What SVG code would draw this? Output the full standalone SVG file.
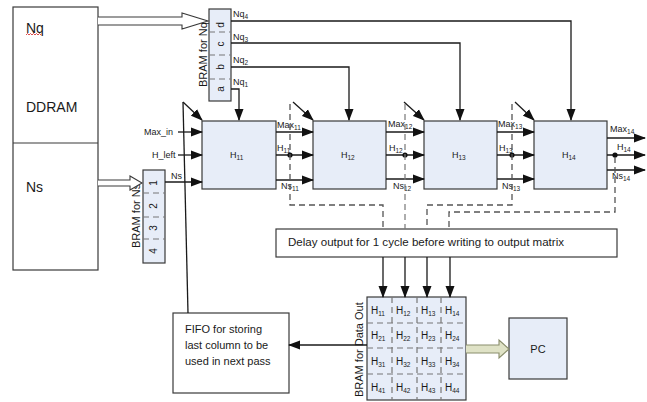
<svg xmlns="http://www.w3.org/2000/svg" width="647" height="402" viewBox="0 0 647 402">
<style>
text{font-family:"Liberation Sans",Arial,sans-serif;fill:#1a1a1a}
.box{fill:#e7edf8;stroke:#3a3a3a;stroke-width:1.2}
.wbox{fill:#fff;stroke:#3a3a3a;stroke-width:1.2}
.ln{fill:none;stroke:#1a1a1a;stroke-width:1.3}
.dl{fill:none;stroke:#555;stroke-width:1.3;stroke-dasharray:6,4}
.dg{fill:none;stroke:#777;stroke-width:1.2;stroke-dasharray:6,4}
.big{font-size:14px}
.lb{font-size:9px}
.sb{font-size:6.5px}
.hl{font-size:10px}
.rot{font-size:11px}
</style>
<defs>
<marker id="ah" markerWidth="12" markerHeight="10" refX="11" refY="5" orient="auto" markerUnits="userSpaceOnUse">
<path d="M0,0.5 L12,5 L0,9.5 z" fill="#111"/>
</marker>
</defs>

<g id="ddram">
<rect class="wbox" x="13" y="7" width="85" height="263"/>
<line x1="13" y1="143" x2="98" y2="143" stroke="#3a3a3a" stroke-width="1.2"/>
<text class="big" x="26" y="33">Nq</text>
<path d="M26,35 l1.5,-1.5 l1.5,1.5 l1.5,-1.5 l1.5,1.5 l1.5,-1.5 l1.5,1.5 l1.5,-1.5 l1.5,1.5 l1.5,-1.5 l1.5,1.5" fill="none" stroke="#d02020" stroke-width="0.8"/>
<text class="big" x="26" y="112">DDRAM</text>
<text class="big" x="26" y="192">Ns</text>
</g>

<g id="bram-nq">
<rect class="box" x="209" y="9" width="22" height="92"/>
<line class="dg" x1="209" y1="32" x2="231" y2="32" stroke-dasharray="6,5"/>
<line class="dg" x1="209" y1="55" x2="231" y2="55" stroke-dasharray="6,5"/>
<line class="dg" x1="209" y1="79" x2="231" y2="79" stroke-dasharray="6,5"/>
<text class="hl" transform="translate(224,25) rotate(-90)" text-anchor="middle">d</text>
<text class="hl" transform="translate(224,44) rotate(-90)" text-anchor="middle">c</text>
<text class="hl" transform="translate(224,67) rotate(-90)" text-anchor="middle">b</text>
<text class="hl" transform="translate(224,89) rotate(-90)" text-anchor="middle">a</text>
<text class="rot" transform="translate(207,87) rotate(-90)">BRAM for Nq</text>
</g>

<g id="bram-ns">
<rect class="box" x="143" y="170" width="22" height="93"/>
<line class="dg" x1="143" y1="193" x2="165" y2="193" stroke-dasharray="6,5"/>
<line class="dg" x1="143" y1="217" x2="165" y2="217" stroke-dasharray="6,5"/>
<line class="dg" x1="143" y1="239" x2="165" y2="239" stroke-dasharray="6,5"/>
<text class="hl" transform="translate(157,183) rotate(-90)" text-anchor="middle">1</text>
<text class="hl" transform="translate(157,206) rotate(-90)" text-anchor="middle">2</text>
<text class="hl" transform="translate(157,228) rotate(-90)" text-anchor="middle">3</text>
<text class="hl" transform="translate(157,251) rotate(-90)" text-anchor="middle">4</text>
<text class="rot" transform="translate(140,248) rotate(-90)">BRAM for Ns</text>
</g>

<g id="h11">
<rect class="box" x="202" y="121" width="74" height="68"/>
<text class="lb" x="230" y="158">H<tspan class="sb" dy="2">11</tspan></text>
</g>
<g id="h12">
<rect class="box" x="313" y="121" width="73" height="68"/>
<text class="lb" x="341" y="158">H<tspan class="sb" dy="2">12</tspan></text>
</g>
<g id="h13">
<rect class="box" x="424" y="121" width="73" height="68"/>
<text class="lb" x="452" y="158">H<tspan class="sb" dy="2">13</tspan></text>
</g>
<g id="h14">
<rect class="box" x="534" y="121" width="73" height="68"/>
<text class="lb" x="562" y="158">H<tspan class="sb" dy="2">14</tspan></text>
</g>

<g id="delay">
<rect class="wbox" x="276" y="229" width="341" height="28"/>
<text x="288" y="246" font-size="11" textLength="276" lengthAdjust="spacingAndGlyphs">Delay output for 1 cycle before writing to output matrix</text>
</g>

<g id="fifo">
<rect class="wbox" x="173" y="313" width="116" height="80"/>
<text x="185" y="333" font-size="11">FIFO for storing</text>
<text x="185" y="349" font-size="11">last column to be</text>
<text x="185" y="365" font-size="11">used in next pass</text>
</g>

<g id="bram-out">
<rect class="box" x="367" y="297" width="99" height="103"/>
<line class="dg" x1="367" y1="323" x2="466" y2="323"/>
<line class="dg" x1="367" y1="348" x2="466" y2="348"/>
<line class="dg" x1="367" y1="374" x2="466" y2="374"/>
<line class="dg" x1="392" y1="297" x2="392" y2="400" stroke-dasharray="5,8"/>
<line class="dg" x1="417" y1="297" x2="417" y2="400" stroke-dasharray="5,8"/>
<line class="dg" x1="441" y1="297" x2="441" y2="400" stroke-dasharray="5,8"/>
<text class="hl" x="371" y="314">H<tspan class="sb" dy="2">11</tspan></text>
<text class="hl" x="396" y="314">H<tspan class="sb" dy="2">12</tspan></text>
<text class="hl" x="421" y="314">H<tspan class="sb" dy="2">13</tspan></text>
<text class="hl" x="445" y="314">H<tspan class="sb" dy="2">14</tspan></text>
<text class="hl" x="371" y="339">H<tspan class="sb" dy="2">21</tspan></text>
<text class="hl" x="396" y="339">H<tspan class="sb" dy="2">22</tspan></text>
<text class="hl" x="421" y="339">H<tspan class="sb" dy="2">23</tspan></text>
<text class="hl" x="445" y="339">H<tspan class="sb" dy="2">24</tspan></text>
<text class="hl" x="371" y="365">H<tspan class="sb" dy="2">31</tspan></text>
<text class="hl" x="396" y="365">H<tspan class="sb" dy="2">32</tspan></text>
<text class="hl" x="421" y="365">H<tspan class="sb" dy="2">33</tspan></text>
<text class="hl" x="445" y="365">H<tspan class="sb" dy="2">34</tspan></text>
<text class="hl" x="371" y="391">H<tspan class="sb" dy="2">41</tspan></text>
<text class="hl" x="396" y="391">H<tspan class="sb" dy="2">42</tspan></text>
<text class="hl" x="421" y="391">H<tspan class="sb" dy="2">43</tspan></text>
<text class="hl" x="445" y="391">H<tspan class="sb" dy="2">44</tspan></text>
<text class="rot" font-size="11.5" transform="translate(363,397) rotate(-90)">BRAM for Data Out</text>
</g>

<g id="pc">
<rect class="box" x="509" y="318" width="58" height="61"/>
<text x="538" y="353" font-size="11" text-anchor="middle">PC</text>
</g>

<g id="connectors">
<!-- hollow arrows -->
<path d="M98,17 L182,17 L182,13 L208,21 L182,29 L182,25 L98,25" fill="#fff" stroke="#3a3a3a" stroke-width="1.1"/>
<path d="M98,180 L130,180 L130,176 L142,183 L130,190 L130,186 L98,186" fill="#fff" stroke="#3a3a3a" stroke-width="1.1"/>
<path d="M466,345 L499,345 L499,340 L509,349 L499,358 L499,353 L466,353" fill="#dfe2c6" stroke="#8a8e6c" stroke-width="1.1"/>

<!-- Nq lines -->
<polyline class="ln" points="231,89 239,89 239,120" marker-end="url(#ah)"/>
<polyline class="ln" points="231,67 349,67 349,120" marker-end="url(#ah)"/>
<polyline class="ln" points="231,43 460,43 460,120" marker-end="url(#ah)"/>
<polyline class="ln" points="231,21 571,21 571,120" marker-end="url(#ah)"/>
<text class="lb" x="233" y="17">Nq<tspan class="sb" dy="2">4</tspan></text>
<text class="lb" x="233" y="40">Nq<tspan class="sb" dy="2">3</tspan></text>
<text class="lb" x="233" y="63">Nq<tspan class="sb" dy="2">2</tspan></text>
<text class="lb" x="233" y="85">Nq<tspan class="sb" dy="2">1</tspan></text>

<!-- feedback line and diagonal arrows -->
<line class="ln" x1="183" y1="102" x2="188" y2="313"/>
<line class="ln" x1="183" y1="102" x2="202" y2="120" marker-end="url(#ah)"/>
<line class="ln" x1="293" y1="102" x2="313" y2="120" marker-end="url(#ah)"/>
<line class="ln" x1="404" y1="102" x2="424" y2="120" marker-end="url(#ah)"/>
<line class="ln" x1="515" y1="102" x2="534" y2="120" marker-end="url(#ah)"/>

<!-- inputs to H11 -->
<text class="lb" x="144" y="135">Max_in</text>
<text class="lb" x="152" y="158">H_left</text>
<text class="lb" x="171" y="179">Ns</text>
<line class="ln" x1="178" y1="132" x2="202" y2="132" marker-end="url(#ah)"/>
<line class="ln" x1="178" y1="155" x2="202" y2="155" marker-end="url(#ah)"/>
<line class="ln" x1="165" y1="182" x2="202" y2="182" marker-end="url(#ah)"/>

<!-- between blocks -->
<line class="ln" x1="276" y1="132" x2="313" y2="132" marker-end="url(#ah)"/>
<line class="ln" x1="276" y1="155" x2="313" y2="155" marker-end="url(#ah)"/>
<line class="ln" x1="276" y1="180" x2="313" y2="180" marker-end="url(#ah)"/>
<line class="ln" x1="386" y1="132" x2="424" y2="132" marker-end="url(#ah)"/>
<line class="ln" x1="386" y1="155" x2="424" y2="155" marker-end="url(#ah)"/>
<line class="ln" x1="386" y1="179" x2="424" y2="179" marker-end="url(#ah)"/>
<line class="ln" x1="497" y1="132" x2="534" y2="132" marker-end="url(#ah)"/>
<line class="ln" x1="497" y1="155" x2="534" y2="155" marker-end="url(#ah)"/>
<line class="ln" x1="497" y1="179" x2="534" y2="179" marker-end="url(#ah)"/>
<line class="ln" x1="607" y1="138" x2="645" y2="138" marker-end="url(#ah)"/>
<line class="ln" x1="607" y1="155" x2="645" y2="155" marker-end="url(#ah)"/>
<line class="ln" x1="607" y1="170" x2="645" y2="170" marker-end="url(#ah)"/>

<text class="lb" x="277" y="128">Max<tspan class="sb" dy="2">11</tspan></text>
<text class="lb" x="277" y="151">H<tspan class="sb" dy="2">11</tspan></text>
<text class="lb" x="281" y="189">Ns<tspan class="sb" dy="2">11</tspan></text>
<text class="lb" x="388" y="127">Max<tspan class="sb" dy="2">12</tspan></text>
<text class="lb" x="389" y="151">H<tspan class="sb" dy="2">12</tspan></text>
<text class="lb" x="393" y="189">Ns<tspan class="sb" dy="2">12</tspan></text>
<text class="lb" x="498" y="127">Max<tspan class="sb" dy="2">13</tspan></text>
<text class="lb" x="499" y="151">H<tspan class="sb" dy="2">13</tspan></text>
<text class="lb" x="502" y="189">Ns<tspan class="sb" dy="2">13</tspan></text>
<text class="lb" x="610" y="132">Max<tspan class="sb" dy="2">14</tspan></text>
<text class="lb" x="617" y="150">H<tspan class="sb" dy="2">14</tspan></text>
<text class="lb" x="612" y="179">Ns<tspan class="sb" dy="2">14</tspan></text>

<!-- tap dots -->
<circle cx="290" cy="155" r="2.6" fill="#111"/>
<circle cx="405" cy="155" r="2.6" fill="#111"/>
<circle cx="512" cy="155" r="2.6" fill="#111"/>
<circle cx="615" cy="155" r="2.6" fill="#111"/>

<!-- dashed delay taps -->
<polyline class="dl" points="290,104 290,205 383,205 383,229"/>
<polyline class="dg" points="405,104 405,229"/>
<polyline class="dl" points="512,104 512,205 427,205 427,229"/>
<polyline class="dl" points="615,157 615,212 449,212 449,229"/>

<!-- delay to output BRAM -->
<line class="ln" x1="383" y1="257" x2="383" y2="297" marker-end="url(#ah)"/>
<line class="ln" x1="405" y1="257" x2="405" y2="297" marker-end="url(#ah)"/>
<line class="ln" x1="427" y1="257" x2="427" y2="297" marker-end="url(#ah)"/>
<line class="ln" x1="450" y1="257" x2="450" y2="297" marker-end="url(#ah)"/>

<!-- output BRAM to FIFO -->
<line class="ln" x1="367" y1="345" x2="289" y2="345" marker-end="url(#ah)"/>
</g>
</svg>
